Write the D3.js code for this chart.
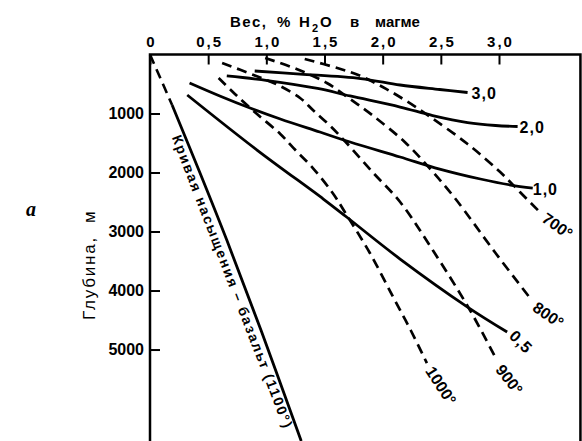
<!DOCTYPE html>
<html><head><meta charset="utf-8">
<script src="https://cdn.jsdelivr.net/npm/d3@7"></script>
<style>body{margin:0;background:#fff} svg{display:block}</style>
</head><body>
<svg id="c" width="582" height="441"></svg>
<script>
// ---- data ----
const xTicks = [0, 0.5, 1.0, 1.5, 2.0, 2.5, 3.0];
const xTickLabels = ["0", "0,5", "1,0", "1,5", "2,0", "2,5", "3,0"];
const yTicks = [1000, 2000, 3000, 4000, 5000];
const yTickLabels = ["1000", "2000", "3000", "4000", "5000"];

// isopleths (solid): [wt % H2O, depth m]
const iso30 = [[0.90,280],[1.29,331],[1.81,407],[2.15,517],[2.49,593],[2.73,644]];
const iso20 = [[0.66,364],[1.01,441],[1.44,576],[1.72,703],[2.15,890],[2.43,1034],[2.73,1153],[2.97,1203],[3.16,1220]];
const iso10 = [[0.34,483],[0.60,703],[0.86,907],[1.12,1093],[1.46,1314],[1.72,1483],[2.15,1737],[2.49,1941],[2.84,2110],[3.10,2212],[3.29,2263]];
const iso05 = [[0.32,686],[0.92,1619],[1.49,2449],[1.69,2754],[2.15,3466],[2.73,4280],[3.07,4703]];
const isoLabels = ["3,0", "2,0", "1,0", "0,5"];

// isotherms (dashed)
const t700 = [[1.33,76],[1.61,229],[1.81,364],[2.00,551],[2.19,771],[2.41,1059],[2.73,1517],[3.01,1992],[3.18,2331],[3.35,2669]];
const t800 = [[0.99,59],[1.26,246],[1.52,483],[1.72,754],[1.92,1042],[2.19,1483],[2.41,1941],[2.62,2432],[2.97,3364],[3.28,4161]];
const t900 = [[0.62,144],[0.89,347],[1.10,517],[1.29,737],[1.40,941],[1.55,1212],[1.69,1500],[1.92,2008],[2.15,2500],[2.43,3314],[2.75,4331],[2.98,5178]];
const t1000 = [[0.59,398],[0.73,669],[0.91,992],[1.12,1347],[1.25,1619],[1.40,1924],[1.57,2347],[1.68,2686],[1.89,3364],[2.09,4110],[2.24,4669],[2.38,5229]];
const isoThermLabels = ["700°", "800°", "900°", "1000°"];

// saturation curve, basalt 1100°
const satDashed = [[0,0],[0.19,856]];
const satSolid = [[0.19,856],[0.43,2008],[0.66,3144],[0.96,4703],[1.30,6551]];
const satLabel = "Кривая насыщения – базальт (1100°)";

const titleParts = ["Вес,", "%", "H", "2", "O", "в", "магме"];
const yTitle = "Глубина,  м";
const panelLetter = "a";

// ---- drawing ----
const svg = d3.select("#c");
const x = d3.scaleLinear().domain([0, 3]).range([150, 499]);
const y = d3.scaleLinear().domain([0, 6550]).range([54.5, 441]);
const xRight = x(3.7);

const line = d3.line().x(d => x(d[0])).y(d => y(d[1])).curve(d3.curveCatmullRom.alpha(0.5));
const lineStraight = d3.line().x(d => x(d[0])).y(d => y(d[1]));

// frame
svg.append("path")
  .attr("d", `M${x(0)},${y.range()[1]}V${y(0)}H${xRight}V${y.range()[1]}`)
  .attr("fill", "none").attr("stroke", "#000").attr("stroke-width", 2.5);

// top axis
const gx = svg.append("g").attr("transform", `translate(0,${y(0)})`)
  .call(d3.axisTop(x).tickValues(xTicks).tickFormat((d, i) => xTickLabels[i])
    .tickSizeInner(-10).tickSizeOuter(0).tickPadding(8));
gx.select(".domain").remove();
gx.selectAll(".tick line").attr("stroke", "#000").attr("stroke-width", 2);
gx.selectAll(".tick text").attr("font-family", "Liberation Sans, Arial, sans-serif")
  .attr("font-size", 15).attr("font-weight", "bold").attr("fill", "#000")
  .attr("letter-spacing", 2).attr("dx", 1);

// left axis
const gy = svg.append("g").attr("transform", `translate(${x(0)},0)`)
  .call(d3.axisLeft(y).tickValues(yTicks).tickFormat((d, i) => yTickLabels[i])
    .tickSizeInner(-10).tickSizeOuter(0).tickPadding(6));
gy.select(".domain").remove();
gy.selectAll(".tick line").attr("stroke", "#000").attr("stroke-width", 2);
gy.selectAll(".tick text").attr("font-family", "Liberation Sans, Arial, sans-serif")
  .attr("font-size", 16).attr("fill", "#000").attr("font-weight", "bold");

// title
const tt = svg.append("text").attr("font-family", "Liberation Sans, Arial, sans-serif")
  .attr("font-size", 15).attr("font-weight", "bold").attr("y", 26.5);
const tpos = [230, 277, 299, 312, 320, 350, 375];
titleParts.forEach((p, i) => {
  const s = tt.append("tspan").attr("x", tpos[i]).text(p);
  if (i === 3) s.attr("font-size", 11).attr("dy", 5);
  if (i === 4) s.attr("dy", -5);
  if (i === 0) s.attr("letter-spacing", 1.5);
});

// y title
svg.append("text").attr("transform", "translate(95,320) rotate(-90)")
  .attr("font-family", "Liberation Sans, Arial, sans-serif").attr("font-size", 17)
  .attr("letter-spacing", 1.8).attr("xml:space", "preserve")
  .style("white-space", "pre").text(yTitle);

// panel letter
svg.append("text").attr("x", 26).attr("y", 216)
  .attr("font-family", "Liberation Serif, serif").attr("font-style", "italic")
  .attr("font-weight", "bold").attr("font-size", 20).text(panelLetter);

// isotherms
const therms = [t700, t800, t900, t1000];
svg.append("g").selectAll("path").data(therms).join("path")
  .attr("d", line).attr("fill", "none").attr("stroke", "#000")
  .attr("stroke-width", 2.7).attr("stroke-dasharray", "10,6");

// isopleths
const isos = [iso30, iso20, iso10, iso05];
svg.append("g").selectAll("path").data(isos).join("path")
  .attr("d", line).attr("fill", "none").attr("stroke", "#000").attr("stroke-width", 2.8);

// saturation curve
svg.append("path").attr("d", lineStraight(satDashed)).attr("fill", "none")
  .attr("stroke", "#000").attr("stroke-width", 2.6).attr("stroke-dasharray", "10,6");
svg.append("path").attr("d", line(satSolid)).attr("fill", "none")
  .attr("stroke", "#000").attr("stroke-width", 2.8);

const lblFont = "Liberation Sans, Arial, sans-serif";
// isopleth labels (end of line)
const isoOff = [[4, 6], [2, 7], [0, 6.5], [1, 5]];
const isoRot = [0, 0, 0, 45];
isos.forEach((s, i) => {
  const e = s[s.length - 1];
  const px = x(e[0]) + isoOff[i][0], py = y(e[1]) + isoOff[i][1];
  svg.append("text").attr("transform", `translate(${px},${py}) rotate(${isoRot[i]})`)
    .attr("font-family", lblFont).attr("font-size", 16).attr("font-weight", "bold")
    .attr("letter-spacing", 1).text(isoLabels[i]);
});
// isotherm labels
const thOff = [[1, 9], [0, 10], [-2, 10], [-2, 8]];
const thRot = [35, 35, 52, 57];
therms.forEach((s, i) => {
  const e = s[s.length - 1];
  const px = x(e[0]) + thOff[i][0], py = y(e[1]) + thOff[i][1];
  svg.append("text").attr("transform", `translate(${px},${py}) rotate(${thRot[i]})`)
    .attr("font-family", lblFont).attr("font-size", 16).attr("font-weight", "bold")
    .text(isoThermLabels[i]);
});

// saturation curve label
{
  const p0 = [x(satSolid[0][0]), y(satSolid[0][1])];
  const p1 = [x(satSolid[satSolid.length-1][0]), y(satSolid[satSolid.length-1][1])];
  const a = Math.atan2(p1[1] - p0[1], p1[0] - p0[0]);
  const t = (133 - p0[1]) / (p1[1] - p0[1]);
  const S = [p0[0] + t * (p1[0] - p0[0]), p0[1] + t * (p1[1] - p0[1])];
  const off = 12;
  const B = [S[0] - off * Math.sin(a), S[1] + off * Math.cos(a)];
  svg.append("text").attr("transform", `translate(${B[0]},${B[1]}) rotate(${a * 180 / Math.PI})`)
    .attr("font-family", lblFont).attr("font-size", 14).attr("font-weight", "bold")
    .attr("textLength", 312).attr("lengthAdjust", "spacing").text(satLabel);
}
</script>
</body></html>
